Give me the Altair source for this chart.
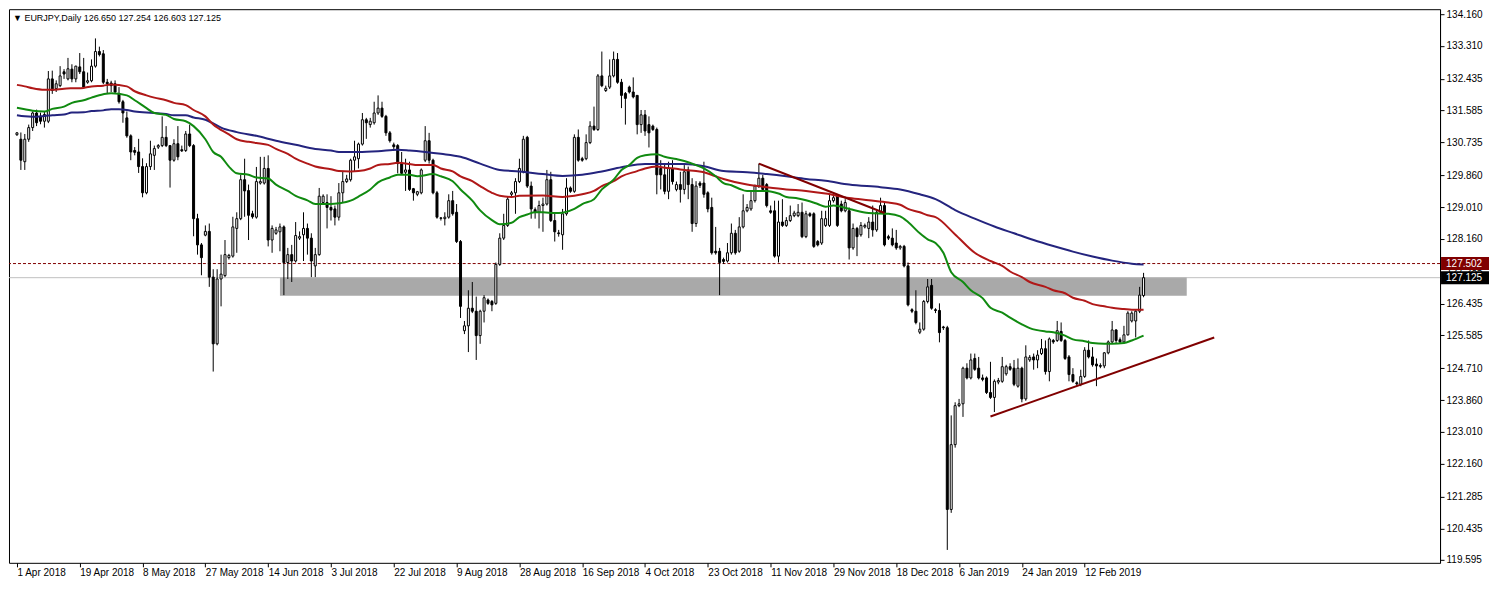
import json
import altair as alt
import pandas as pd

# ---------------- data ----------------
symbol_title = "EURJPY,Daily"
header_ohlc = ["126.650", "127.254", "126.603", "127.125"]

opens = [
    130.94, 130.82, 130.22, 130.82, 131.13, 131.52, 131.43, 131.30, 131.30, 132.43,
    132.17, 132.25, 132.62, 132.43, 132.69, 132.43, 132.75, 132.62, 132.34, 132.38,
    132.77, 133.16, 133.10, 132.34, 132.32, 132.30, 132.04, 131.82, 131.39, 130.91,
    130.52, 130.48, 130.09, 129.39, 130.09, 130.39, 130.61, 130.65, 130.87, 130.65,
    130.26, 130.70, 130.54, 130.52, 130.96, 130.65, 128.70, 128.00, 128.26, 128.36,
    127.14, 125.36, 127.09, 127.18, 127.66, 127.70, 128.44, 128.70, 129.74, 129.45,
    128.83, 128.74, 129.65, 129.65, 130.04, 128.13, 128.31, 128.35, 128.48, 127.53,
    127.74, 127.57, 128.18, 128.27, 128.44, 128.18, 127.44, 127.74, 129.13, 129.13,
    129.00, 128.96, 128.74, 129.39, 129.69, 129.74, 130.26, 130.30, 130.69, 131.34,
    131.21, 131.26, 131.52, 131.65, 131.43, 130.99, 130.67, 130.65, 130.17, 129.94,
    130.00, 129.50, 129.35, 129.39, 130.26, 130.78, 130.26, 129.39, 128.72, 128.70,
    128.74, 129.18, 128.87, 128.09, 125.71, 125.84, 126.31, 126.23, 125.58, 126.23,
    126.53, 126.49, 126.44, 127.48, 128.18, 128.52, 129.35, 129.39, 129.69, 129.95,
    130.87, 129.57, 128.94, 128.87, 129.05, 129.09, 129.74, 128.65, 128.32, 128.27,
    128.83, 129.52, 129.43, 130.87, 130.30, 130.30, 130.73, 131.17, 131.08, 132.51,
    132.12, 132.21, 132.51, 132.95, 132.34, 132.04, 132.21, 132.08, 131.99, 131.21,
    131.47, 131.21, 131.17, 131.08, 130.04, 129.87, 129.43, 130.04, 129.48, 129.61,
    129.48, 130.00, 129.61, 128.57, 129.65, 129.65, 129.39, 129.00, 127.83, 127.83,
    127.61, 127.57, 127.79, 128.31, 127.83, 128.48, 128.91, 128.96, 129.18, 129.57,
    129.78, 129.61, 128.91, 128.91, 127.70, 128.61, 128.52, 128.65, 128.78, 128.78,
    128.87, 128.22, 128.83, 128.83, 128.09, 128.05, 128.52, 128.52, 129.18, 129.30,
    129.09, 128.91, 128.91, 127.92, 128.44, 128.27, 128.48, 128.44, 128.61, 128.40,
    128.87, 129.05, 128.22, 128.18, 128.05, 127.92, 127.96, 127.44, 126.27, 126.23,
    125.67, 125.75, 126.49, 126.92, 126.27, 126.25, 125.81, 125.79, 120.94, 122.67,
    123.71, 123.76, 124.71, 124.45, 124.97, 124.71, 124.45, 124.45, 124.06, 123.93,
    124.34, 124.36, 124.56, 124.75, 124.71, 124.23, 124.71, 123.89, 124.93, 125.01,
    124.93, 125.10, 125.23, 124.62, 125.45, 125.45, 125.69, 125.45, 125.01, 124.54,
    124.32, 124.28, 124.49, 125.19, 125.01, 124.82, 124.78, 124.77, 125.12, 125.41,
    125.73, 125.47, 125.41, 125.60, 125.97, 125.97, 126.23, 126.65,
]
highs = [
    131.01, 131.00, 130.96, 131.21, 131.56, 131.61, 131.53, 131.56, 132.64, 132.65,
    132.39, 132.77, 132.69, 132.99, 132.82, 132.78, 133.12, 132.99, 132.60, 132.95,
    133.51, 133.29, 133.20, 132.43, 132.38, 132.39, 132.21, 131.87, 131.56, 130.95,
    130.61, 130.83, 130.31, 130.18, 130.78, 130.65, 130.69, 131.43, 131.17, 130.65,
    130.82, 131.17, 130.65, 131.04, 131.21, 130.69, 128.83, 128.05, 128.52, 128.57,
    127.35, 127.35, 127.74, 128.13, 127.76, 128.75, 128.87, 129.87, 130.30, 129.61,
    128.91, 130.08, 130.35, 130.35, 130.39, 128.52, 128.48, 128.57, 128.52, 127.92,
    128.00, 128.61, 128.36, 128.87, 128.57, 128.31, 127.92, 129.52, 129.35, 129.35,
    129.30, 129.05, 129.65, 129.95, 129.87, 130.30, 130.78, 130.73, 131.52, 131.39,
    131.39, 131.82, 131.99, 131.82, 131.47, 131.04, 130.73, 130.69, 130.48, 130.30,
    130.22, 129.52, 129.44, 130.04, 131.17, 130.99, 130.30, 129.44, 128.74, 128.87,
    129.35, 129.44, 129.09, 128.13, 125.97, 126.79, 127.01, 126.62, 126.27, 126.66,
    126.57, 126.53, 127.53, 128.31, 128.83, 129.30, 129.44, 129.78, 130.30, 130.91,
    130.91, 129.69, 129.00, 129.18, 129.26, 130.00, 129.95, 128.83, 128.40, 128.96,
    129.78, 129.56, 130.95, 131.08, 130.35, 130.95, 131.30, 131.69, 132.56, 133.16,
    132.25, 132.95, 133.16, 133.12, 132.43, 132.08, 132.25, 132.47, 131.99, 131.60,
    131.60, 131.43, 131.21, 131.13, 130.26, 130.17, 130.22, 130.26, 129.69, 129.95,
    130.13, 130.09, 129.78, 129.70, 129.70, 130.22, 129.43, 129.26, 128.48, 127.92,
    127.66, 128.05, 128.57, 128.40, 128.74, 129.35, 129.09, 129.43, 129.61, 130.17,
    129.87, 129.65, 129.05, 129.18, 129.18, 129.22, 128.74, 129.05, 128.91, 129.09,
    129.13, 128.91, 128.87, 128.87, 128.13, 128.91, 128.91, 129.35, 129.35, 129.35,
    129.18, 129.22, 129.00, 128.57, 128.48, 128.61, 128.57, 128.74, 129.05, 128.91,
    129.26, 129.13, 128.27, 128.44, 128.40, 128.00, 128.00, 127.53, 126.31, 126.79,
    125.93, 126.53, 127.09, 127.09, 126.31, 126.44, 125.84, 125.84, 123.45, 123.80,
    123.89, 124.75, 124.84, 125.10, 125.10, 125.01, 124.54, 124.49, 124.88, 124.41,
    124.45, 125.01, 124.80, 124.84, 124.93, 124.97, 124.75, 125.32, 125.06, 125.10,
    125.19, 125.49, 125.45, 125.53, 125.49, 125.97, 125.93, 125.49, 125.06, 124.71,
    124.36, 124.67, 125.27, 125.45, 125.27, 124.97, 124.84, 125.14, 125.45, 125.97,
    125.75, 125.53, 125.84, 126.23, 126.23, 126.27, 126.88, 127.254,
]
lows = [
    130.91, 130.00, 130.00, 130.75, 131.04, 131.17, 131.22, 131.13, 131.25, 132.03,
    132.08, 132.21, 132.43, 132.39, 132.34, 132.34, 132.56, 132.17, 132.30, 132.34,
    132.73, 133.03, 132.29, 132.04, 132.08, 132.04, 131.77, 131.26, 130.86, 130.26,
    130.39, 129.92, 129.27, 129.35, 130.00, 130.00, 130.56, 130.61, 130.61, 129.53,
    130.22, 130.26, 130.48, 130.48, 130.61, 128.23, 127.74, 127.19, 128.23, 126.88,
    124.62, 125.32, 126.36, 127.14, 127.61, 127.66, 127.79, 128.66, 128.75, 128.13,
    128.70, 128.70, 129.61, 129.61, 127.96, 127.79, 128.27, 127.83, 126.66, 127.09,
    127.01, 127.53, 128.13, 127.57, 127.74, 127.14, 127.14, 127.71, 129.09, 128.44,
    128.65, 128.52, 128.65, 129.13, 129.65, 129.69, 129.95, 130.04, 130.65, 130.83,
    131.13, 131.21, 131.47, 131.39, 130.91, 130.73, 130.56, 129.91, 129.87, 129.44,
    129.44, 129.18, 129.30, 129.35, 130.21, 130.17, 129.35, 128.70, 128.65, 128.52,
    128.70, 128.78, 128.05, 126.05, 125.62, 125.14, 126.18, 124.93, 125.36, 125.93,
    126.40, 126.23, 126.40, 127.44, 128.13, 128.48, 129.30, 128.83, 129.65, 129.91,
    129.52, 128.70, 128.70, 128.44, 128.35, 129.05, 128.61, 128.09, 128.22, 127.87,
    128.78, 129.39, 129.39, 130.22, 130.22, 130.26, 130.69, 131.04, 131.04, 132.21,
    132.08, 132.16, 132.47, 132.30, 131.65, 131.21, 132.04, 131.91, 130.95, 130.99,
    130.91, 130.60, 131.04, 129.35, 129.48, 129.35, 129.22, 129.61, 129.43, 129.13,
    129.35, 129.22, 128.35, 128.48, 129.52, 129.26, 128.87, 127.74, 127.74, 126.66,
    127.49, 127.53, 127.74, 127.74, 127.79, 128.44, 128.87, 128.91, 129.13, 129.52,
    129.43, 129.00, 128.83, 127.66, 127.53, 128.48, 128.48, 128.61, 128.74, 128.74,
    128.18, 128.18, 128.74, 127.92, 127.96, 128.00, 128.48, 128.48, 129.13, 128.48,
    128.87, 128.87, 127.61, 127.87, 127.70, 128.22, 128.44, 128.18, 128.22, 128.35,
    128.83, 127.96, 128.13, 127.96, 127.87, 127.87, 127.40, 126.36, 126.18, 125.88,
    125.62, 125.71, 126.44, 126.27, 126.18, 125.40, 125.73, 119.86, 120.85, 122.59,
    123.67, 123.41, 124.41, 124.41, 124.64, 124.41, 124.36, 124.02, 123.89, 123.54,
    124.28, 124.32, 124.51, 124.64, 124.23, 124.19, 123.80, 123.84, 124.88, 124.67,
    124.71, 125.06, 124.54, 124.36, 125.36, 125.41, 125.41, 124.93, 124.36, 124.32,
    124.23, 124.23, 124.45, 124.97, 124.75, 124.23, 124.71, 124.71, 125.08, 125.36,
    125.36, 125.36, 125.36, 125.58, 125.93, 125.53, 126.18, 126.603,
]
closes = [
    130.99, 130.26, 130.82, 131.13, 131.52, 131.26, 131.30, 131.48, 132.43, 132.12,
    132.30, 132.51, 132.56, 132.70, 132.43, 132.77, 132.62, 132.21, 132.38, 132.77,
    133.16, 133.08, 132.34, 132.30, 132.25, 132.08, 131.82, 131.52, 130.91, 130.48,
    130.47, 130.09, 129.39, 130.09, 130.43, 130.57, 130.65, 130.87, 130.65, 130.26,
    130.70, 130.35, 130.51, 130.96, 130.65, 128.70, 128.00, 127.66, 128.36, 127.14,
    125.36, 127.09, 127.22, 127.74, 127.72, 128.48, 128.70, 129.74, 129.44, 128.79,
    128.75, 129.69, 129.69, 130.04, 128.13, 128.44, 128.40, 128.48, 127.53, 127.74,
    127.57, 128.25, 128.22, 128.44, 128.18, 127.57, 127.74, 129.30, 129.30, 129.00,
    128.93, 128.74, 129.39, 129.69, 129.76, 130.26, 130.35, 130.69, 131.34, 131.26,
    131.30, 131.52, 131.65, 131.43, 130.99, 130.78, 130.62, 130.17, 129.91, 130.00,
    129.48, 129.39, 129.42, 130.00, 130.78, 130.26, 129.39, 128.74, 128.71, 128.74,
    129.18, 128.83, 128.09, 126.36, 125.84, 126.31, 126.23, 125.58, 126.23, 126.59,
    126.44, 126.40, 127.48, 128.18, 128.52, 129.22, 129.39, 129.69, 130.04, 130.82,
    129.57, 128.96, 128.87, 129.05, 129.09, 129.74, 128.65, 128.35, 128.30, 128.83,
    129.52, 129.43, 130.87, 130.26, 130.26, 130.73, 131.17, 131.08, 132.51, 132.25,
    132.18, 132.51, 132.95, 132.34, 131.99, 131.91, 132.08, 131.95, 131.21, 131.47,
    131.04, 130.99, 131.08, 129.87, 129.87, 129.43, 130.04, 129.69, 129.61, 129.48,
    129.95, 129.61, 128.57, 129.57, 129.59, 129.35, 128.96, 127.79, 127.79, 127.53,
    127.56, 127.79, 128.31, 127.79, 128.48, 128.91, 129.00, 129.18, 129.57, 129.78,
    129.48, 129.05, 128.87, 127.70, 128.61, 128.52, 128.65, 128.78, 128.85, 128.87,
    128.22, 128.83, 128.78, 127.96, 128.00, 128.70, 128.70, 129.18, 129.26, 128.52,
    128.91, 129.13, 127.92, 128.44, 128.22, 128.52, 128.52, 128.61, 128.40, 128.87,
    129.05, 128.00, 128.18, 128.00, 127.92, 127.96, 127.44, 126.40, 126.23, 125.93,
    125.75, 126.49, 126.88, 126.31, 126.25, 125.66, 125.79, 120.94, 122.67, 123.71,
    123.76, 124.71, 124.45, 124.93, 124.68, 124.45, 124.41, 124.06, 123.93, 124.36,
    124.38, 124.75, 124.75, 124.68, 124.28, 124.71, 123.89, 125.01, 125.00, 124.93,
    125.06, 125.23, 124.62, 125.49, 125.41, 125.71, 125.45, 124.97, 124.54, 124.36,
    124.29, 124.49, 125.19, 125.01, 124.80, 124.77, 124.76, 125.12, 125.41, 125.73,
    125.45, 125.41, 125.60, 126.18, 126.18, 126.23, 126.66, 127.125,
]

# moving averages (bar index, price)
ma_green_bars = [0, 2, 4, 7, 9, 12, 14, 17, 19, 22, 24, 28, 30, 33, 35, 38, 40, 43, 45, 48,
                 50, 52, 54, 56, 59, 61, 64, 66, 69, 71, 74, 76, 80, 82, 85, 87, 90, 92, 95, 97,
                 100, 102, 106, 108, 111, 113, 116, 118, 121, 123, 126, 128, 130, 132, 134, 137, 139, 142, 144, 147,
                 149, 152, 154, 156, 158, 160, 163, 165, 168, 170, 173, 175, 178, 180, 182, 184, 186, 191, 194, 196,
                 199, 201, 204, 206, 208, 212, 217, 222, 225, 227, 230, 232, 234, 236, 238, 241, 243, 246, 248, 251,
                 253, 256, 258, 262, 264, 267, 269, 272, 274, 277, 279, 282, 284, 287]
ma_green_vals = [131.66, 131.62, 131.58, 131.56, 131.63, 131.69, 131.79, 131.86, 131.93, 132.02,
                 132.05, 131.99, 131.86, 131.65, 131.52, 131.47, 131.36, 131.30, 131.17, 130.82,
                 130.48, 130.35, 130.09, 129.91, 129.87, 129.80, 129.77, 129.61, 129.44, 129.31,
                 129.19, 129.09, 129.09, 129.11, 129.18, 129.29, 129.48, 129.67, 129.80, 129.87,
                 129.87, 129.83, 129.89, 129.83, 129.70, 129.48, 129.18, 128.92, 128.66, 128.55,
                 128.59, 128.74, 128.81, 128.87, 128.87, 128.85, 128.86, 128.96, 129.09, 129.22,
                 129.48, 129.74, 130.00, 130.13, 130.32, 130.39, 130.42, 130.35, 130.29, 130.24,
                 130.13, 130.04, 129.83, 129.65, 129.59, 129.50, 129.44, 129.44, 129.37, 129.28,
                 129.24, 129.19, 129.09, 129.02, 129.05, 128.96, 128.85, 128.83, 128.76, 128.61,
                 128.31, 128.15, 128.05, 127.79, 127.27, 127.01, 126.79, 126.58, 126.32, 126.19,
                 126.06, 125.88, 125.78, 125.69, 125.67, 125.58, 125.48, 125.43, 125.38, 125.36,
                 125.36, 125.38, 125.45, 125.58]

ma_red_bars = [0, 2, 4, 7, 9, 12, 14, 17, 19, 22, 24, 28, 30, 33, 35, 38, 40, 43, 45, 48,
               50, 54, 56, 59, 61, 64, 66, 69, 71, 74, 76, 80, 82, 85, 87, 90, 92, 95, 97, 100,
               102, 106, 108, 111, 113, 116, 118, 121, 123, 126, 128, 134, 139, 142, 144, 147, 149, 152, 154, 158,
               160, 163, 165, 168, 170, 173, 175, 178, 180, 186, 191, 196, 201, 206, 212, 217, 222, 225, 227, 230,
               232, 234, 239, 244, 248, 251, 253, 256, 258, 262, 264, 267, 269, 272, 274, 277, 279, 282, 284, 287]
ma_red_vals = [132.27, 132.23, 132.18, 132.14, 132.14, 132.17, 132.18, 132.19, 132.23, 132.25,
               132.28, 132.23, 132.10, 131.99, 131.93, 131.86, 131.79, 131.73, 131.60, 131.43,
               131.21, 130.95, 130.82, 130.75, 130.72, 130.67, 130.56, 130.43, 130.30, 130.17,
               130.09, 130.02, 129.97, 129.96, 129.97, 130.04, 130.13, 130.16, 130.19, 130.16,
               130.13, 130.13, 130.04, 129.96, 129.83, 129.70, 129.57, 129.39, 129.31, 129.28,
               129.31, 129.32, 129.28, 129.31, 129.35, 129.44, 129.57, 129.70, 129.83, 129.97,
               130.04, 130.09, 130.06, 130.03, 130.00, 129.97, 129.94, 129.83, 129.76, 129.61,
               129.54, 129.48, 129.44, 129.37, 129.25, 129.19, 129.13, 129.07, 128.96, 128.87,
               128.79, 128.74, 128.28, 127.79, 127.57, 127.44, 127.29, 127.14, 127.01, 126.88,
               126.79, 126.71, 126.59, 126.51, 126.42, 126.36, 126.32, 126.29, 126.27, 126.27]

ma_navy_bars = [0, 2, 4, 7, 9, 12, 14, 17, 19, 22, 24, 26, 28, 30, 33, 35, 38, 40, 43, 45,
                48, 50, 52, 56, 61, 66, 71, 76, 80, 82, 87, 92, 97, 100, 104, 108, 113, 118, 123, 128,
                134, 139, 144, 149, 154, 160, 165, 170, 175, 180, 186, 191, 196, 201, 206, 212, 220, 225, 230, 234,
                239, 244, 249, 254, 259, 264, 269, 274, 279, 284, 287]
ma_navy_vals = [131.46, 131.43, 131.42, 131.44, 131.46, 131.48, 131.53, 131.54, 131.57, 131.59,
                131.62, 131.62, 131.60, 131.56, 131.53, 131.52, 131.49, 131.46, 131.46, 131.40,
                131.34, 131.24, 131.13, 131.01, 130.91, 130.78, 130.67, 130.56, 130.52, 130.48,
                130.48, 130.50, 130.54, 130.52, 130.48, 130.43, 130.35, 130.17, 130.00, 129.96,
                129.89, 129.84, 129.87, 129.96, 130.07, 130.16, 130.16, 130.16, 130.10, 129.97,
                129.94, 129.89, 129.83, 129.76, 129.71, 129.61, 129.54, 129.48, 129.35, 129.22,
                128.93, 128.70, 128.49, 128.31, 128.13, 127.97, 127.82, 127.69, 127.58, 127.50,
                127.48]

# drawn objects
trend_down_bars = [189, 221]
trend_down_vals = [130.17, 128.85]
trend_up_bars = [248, 305]
trend_up_vals = [123.42, 125.53]
zone_bars = [67, 298]
zone_vals = [126.64, 127.14]
alert_level = 127.502
bid_level = 127.125

date_labels = ["1 Apr 2018", "19 Apr 2018", "8 May 2018", "27 May 2018", "14 Jun 2018",
               "3 Jul 2018", "22 Jul 2018", "9 Aug 2018", "28 Aug 2018", "16 Sep 2018",
               "4 Oct 2018", "23 Oct 2018", "11 Nov 2018", "29 Nov 2018", "18 Dec 2018",
               "6 Jan 2019", "24 Jan 2019", "12 Feb 2019"]
label_step = 16
price_ticks = [134.160, 133.310, 132.435, 131.585, 130.735, 129.860, 129.010, 128.160, 127.285,
               126.435, 125.585, 124.710, 123.860, 123.010, 122.160, 121.285, 120.435, 119.595]

# ---------------- chart ----------------
W, H = 1432, 554
FONT = "Liberation Sans"
x_scale = alt.Scale(domain=[-0.75, 361.25], nice=False, zero=False)
y_scale = alt.Scale(domain=[119.516, 134.29], nice=False, zero=False)

n = len(opens)
candles = pd.DataFrame({"i": list(range(n)), "o": opens, "h": highs, "l": lows, "c": closes})

x_axis = alt.Axis(values=[k * label_step for k in range(len(date_labels))],
                  labelExpr=json.dumps(date_labels) + "[round(datum.value / %d)]" % label_step,
                  labelAlign="left", labelFont=FONT, labelFontSize=10, labelColor="black",
                  tickColor="black", tickSize=4, labelPadding=1, domain=False, grid=False,
                  title=None, labelFlush=False, labelOverlap=False)
y_axis = alt.Axis(values=price_ticks, format=".3f", orient="right", labelFont=FONT,
                  labelFontSize=10, labelColor="black", tickColor="black", tickSize=4,
                  labelPadding=2, domain=True, domainColor="black", grid=False, title=None,
                  labelFlush=False, labelOverlap=False)


def X(field):
    return alt.X(field, type="quantitative", scale=x_scale, axis=x_axis)


def Y(field):
    return alt.Y(field, type="quantitative", scale=y_scale, axis=y_axis)


zone = alt.Chart(pd.DataFrame({"b0": [zone_bars[0]], "b1": [zone_bars[1]],
                               "p0": [zone_vals[0]], "p1": [zone_vals[1]]})).mark_rect(
    color="#a9a9a9").encode(x=X("b0"), x2="b1:Q", y=Y("p0"), y2="p1:Q")

bid_line = alt.Chart(pd.DataFrame({"p": [bid_level]})).mark_rule(
    color="#c0c0c0", strokeWidth=1).encode(y=Y("p"))
alert_line = alt.Chart(pd.DataFrame({"p": [alert_level]})).mark_rule(
    color="#800000", strokeWidth=1, strokeDash=[3, 2]).encode(y=Y("p"))

wicks = alt.Chart(candles).mark_rule(color="black", strokeWidth=1).encode(
    x=X("i"), y=Y("l"), y2="h:Q")
bodies = alt.Chart(candles).mark_bar(width=2, stroke="black", strokeWidth=1).encode(
    x=X("i"), y=Y("o"), y2="c:Q",
    fill=alt.condition("datum.c >= datum.o", alt.value("white"), alt.value("black")))


def ma_layer(bars, vals, color):
    return alt.Chart(pd.DataFrame({"b": bars, "v": vals})).mark_line(
        color=color, strokeWidth=2, interpolate="monotone").encode(x=X("b"), y=Y("v"))


ma_navy = ma_layer(ma_navy_bars, ma_navy_vals, "#24247e")
ma_red = ma_layer(ma_red_bars, ma_red_vals, "#b01818")
ma_green = ma_layer(ma_green_bars, ma_green_vals, "#108a10")

trend_df = pd.DataFrame({
    "b": trend_down_bars + trend_up_bars,
    "v": trend_down_vals + trend_up_vals,
    "k": ["down", "down", "up", "up"]})
trends = alt.Chart(trend_df).mark_line(color="#800000", strokeWidth=2).encode(
    x=X("b"), y=Y("v"), detail="k:N")

header = alt.Chart(pd.DataFrame({"t": ["\u25BC " + symbol_title + "  " + " ".join(header_ohlc)]})).mark_text(
    align="left", baseline="middle", font=FONT, fontSize=9, color="black").encode(
    x=alt.value(4), y=alt.value(9), text="t:N")

levels = pd.DataFrame({"p": [alert_level, bid_level],
                       "txt": ["%.3f" % alert_level, "%.3f" % bid_level],
                       "bg": ["#800000", "#000000"]})
level_boxes = alt.Chart(levels).mark_rect(yOffset=-6.5, y2Offset=6.5).encode(
    x=alt.value(W + 1), x2=alt.value(W + 49),
    y=Y("p"), y2="p:Q",
    fill=alt.Fill("bg:N", scale=None))
level_text = alt.Chart(levels).mark_text(
    align="left", baseline="middle", font=FONT, fontSize=10, color="white").encode(
    x=alt.value(W + 6), y=Y("p"), text="txt:N")

chart = alt.layer(
    zone, bid_line, alert_line, wicks, bodies, ma_navy, ma_red, ma_green, trends,
    header, level_boxes, level_text
).properties(width=W, height=H, padding=0, background="white").configure_view(
    stroke="black", strokeWidth=1)

chart.save("out.html", embed_options={"renderer": "svg", "actions": False})
